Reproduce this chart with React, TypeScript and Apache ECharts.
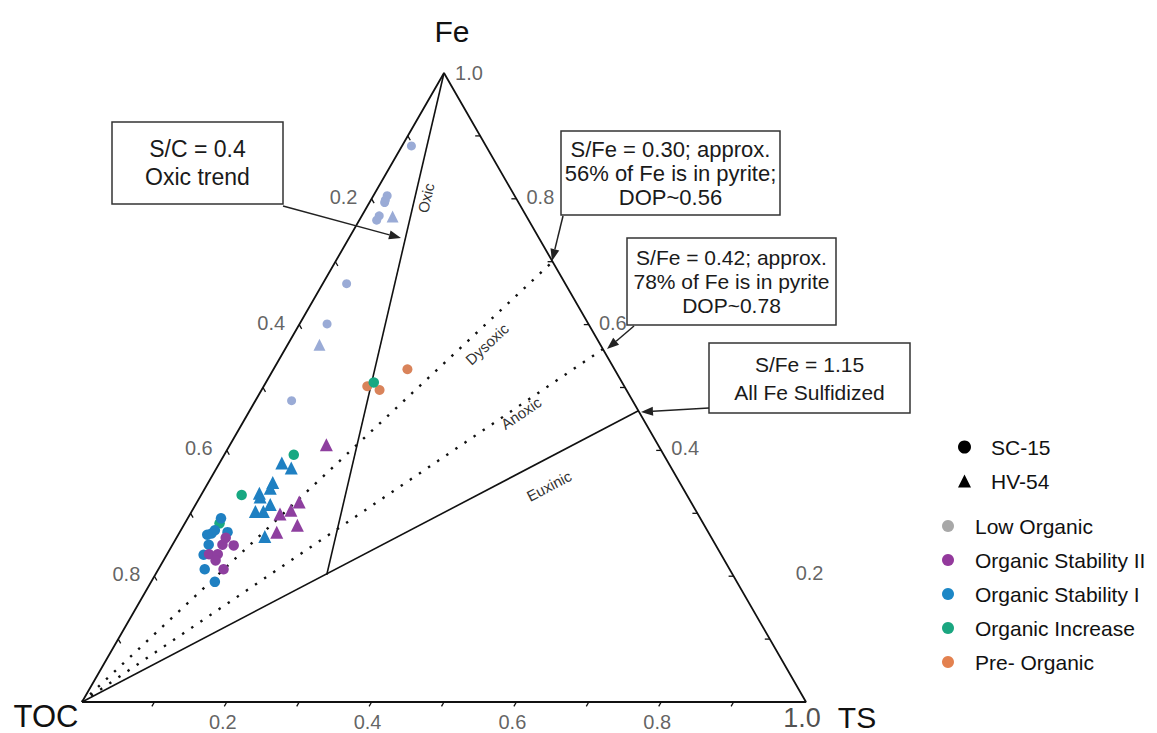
import React, { useEffect, useRef } from "react";
import * as echarts from "echarts";

// Ternary compositions stored as [TS, Fe] fractions (TOC = 1 - TS - Fe)
const lowOrganicSC = [[0.013, 0.884], [0.019, 0.805], [0.020, 0.798], [0.021, 0.794], [0.024, 0.773], [0.024, 0.766], [0.033, 0.665], [0.038, 0.601], [0.050, 0.479]];
const lowOrganicHV = [[0.043, 0.772], [0.044, 0.568]];
const preOrganicSC = [[0.185, 0.529], [0.143, 0.502], [0.163, 0.496]];
const orgIncreaseSC = [[0.149, 0.508], [0.096, 0.393], [0.056, 0.329], [0.048, 0.284]];
const orgStabIHV = [[0.086, 0.380], [0.103, 0.372], [0.089, 0.349], [0.090, 0.340], [0.079, 0.332], [0.083, 0.326], [0.103, 0.314], [0.088, 0.303], [0.099, 0.303], [0.121, 0.263]];
const orgStabIIHV = [[0.133, 0.409], [0.141, 0.318], [0.136, 0.305], [0.124, 0.299], [0.157, 0.281], [0.134, 0.270]];
const orgStabISC = [[0.046, 0.292], [0.047, 0.273], [0.045, 0.268], [0.040, 0.266], [0.066, 0.270], [0.050, 0.250], [0.051, 0.234], [0.064, 0.211], [0.088, 0.191]];
const orgStabIISC = [[0.068, 0.261], [0.069, 0.250], [0.085, 0.249], [0.058, 0.235], [0.070, 0.235], [0.072, 0.225], [0.090, 0.211]];

// Reference lines (ternary [TS, Fe])
const vertexTOC = [0, 0];
const vertexTS = [1, 0];
const vertexFe = [0, 1];
const oxicEnd = [0.237, 0.202];
const euxinicEnd = [0.537, 0.463];
const dysoxicEnd = [0.300, 0.700];
const anoxicEnd = [0.439, 0.561];

const tickValues = [0.1, 0.2, 0.3, 0.4, 0.5, 0.6, 0.7, 0.8, 0.9];
const bottomLabels = [0.2, 0.4, 0.6, 0.8, 1.0];
const leftLabels = [0.2, 0.4, 0.6, 0.8];
const rightLabels = [0.2, 0.4, 0.6, 0.8, 1.0];

const categories = ["Low Organic", "Organic Stability II", "Organic Stability I", "Organic Increase", "Pre- Organic"];
const legendColors = ["#a8a8a8", "#93399c", "#1c87c6", "#1aa680", "#e3814f"];
const plotColors = ["#9aabd6", "#8e3f9f", "#1f80c2", "#17a882", "#d9835a"];

const FONT = '"Liberation Sans", Arial, Helvetica, sans-serif';
const toXY = (p: number[]) => [p[0] + p[1] / 2, p[1]];

function arrow(x1: number, y1: number, x2: number, y2: number) {
  const dx = x2 - x1, dy = y2 - y1;
  const L = Math.hypot(dx, dy);
  const ux = dx / L, uy = dy / L;
  const hl = 12, hw = 4.5;
  const bx = x2 - ux * hl, by = y2 - uy * hl;
  return [
    { type: "line", shape: { x1, y1, x2: bx, y2: by }, style: { stroke: "#222", lineWidth: 1.5 }, z: 20 },
    { type: "polygon", shape: { points: [[x2, y2], [bx - uy * hw, by + ux * hw], [bx + uy * hw, by - ux * hw]] }, style: { fill: "#222" }, z: 20 },
  ];
}

function box(x: number, y: number, w: number, h: number, text: string, fontSize: number, lineHeight: number) {
  return [
    { type: "rect", shape: { x, y, width: w, height: h }, style: { fill: "#fff", stroke: "#333", lineWidth: 1.5 }, z: 20 },
    {
      type: "text", x: x + w / 2, y: y + h / 2, z: 21,
      style: { text, fontSize, fontFamily: FONT, fill: "#1a1a1a", align: "center", verticalAlign: "middle", lineHeight },
    },
  ];
}

function zoneLabel(text: string, x: number, y: number, deg: number) {
  return {
    type: "text", x, y, rotation: (deg * Math.PI) / 180, z: 10,
    style: { text, fontSize: 15, fontFamily: FONT, fill: "#333", align: "center", verticalAlign: "middle" },
  };
}

export default function App() {
  const ref = useRef<HTMLDivElement>(null);
  useEffect(() => {
    document.body.style.margin = "0";
    const chart = echarts.init(ref.current!, null, { renderer: "svg" });

    const seg = (pts: number[][], lineStyle: any) => ({
      type: "line", data: pts.map(toXY), symbol: "none", silent: true, z: 3, lineStyle, legendHoverLink: false,
    });
    const sc = (name: string, data: number[][], color: string, symbol: string, size: number) => ({
      type: "scatter", name, data: data.map(toXY), symbol, symbolSize: size, silent: true, z: 5,
      symbolKeepAspect: true,
      itemStyle: { color, opacity: 1 },
    });

    const tickData: number[][] = [];
    tickValues.forEach((v) => { tickData.push([0, v]); tickData.push([1, v]); tickData.push([2, v]); });

    const labelData: any[] = [];
    bottomLabels.forEach((v) => labelData.push({
      value: toXY([v, 0]), name: v.toFixed(1),
      label: { offset: v === 1 ? [-4, 16] : [-4, 20], fontSize: v === 1 ? 27 : 20, color: v === 1 ? "#222" : "#3b3b3b" },
    }));
    leftLabels.forEach((v) => labelData.push({
      value: toXY([0, 1 - v]), name: v.toFixed(1), label: { offset: [-28, -2] },
    }));
    rightLabels.forEach((v) => labelData.push({
      value: toXY([1 - v, v]), name: v.toFixed(1),
      label: { offset: v === 1 ? [25, 0] : v === 0.2 ? [76, -3] : [24, -2] },
    }));

    const legendText = { fontSize: 21, color: "#111", fontFamily: FONT, lineHeight: 24 };

    const option: any = {
      animation: false,
      grid: { left: 82, top: 73, width: 724, height: 629, containLabel: false },
      xAxis: { type: "value", min: 0, max: 1, show: false },
      yAxis: { type: "value", min: 0, max: 1, show: false },
      legend: [
        {
          data: [{ name: "SC-15", icon: "circle" }, { name: "HV-54", icon: "triangle" }],
          orient: "vertical", left: 953, top: 430, itemWidth: 13, itemHeight: 13, itemGap: 10,
          selectedMode: false, symbolKeepAspect: true,
          textStyle: { ...legendText, padding: [0, 0, 0, 15] },
        },
        {
          data: categories.map((c, i) => ({ name: c, icon: "circle", itemStyle: { color: legendColors[i] } })),
          orient: "vertical", left: 937, top: 509, itemWidth: 12, itemHeight: 12, itemGap: 10,
          selectedMode: false,
          textStyle: { ...legendText, padding: [0, 0, 0, 16] },
        },
      ],
      series: [
        seg([vertexTOC, vertexTS, vertexFe, vertexTOC], { color: "#111", width: 1.8 }),
        seg([vertexFe, oxicEnd], { color: "#111", width: 1.6 }),
        seg([vertexTOC, euxinicEnd], { color: "#111", width: 1.6 }),
        seg([vertexTOC, dysoxicEnd], { color: "#111", width: 2.4, type: [2.4, 8.6] }),
        seg([vertexTOC, anoxicEnd], { color: "#111", width: 2.4, type: [2.4, 8.6] }),
        {
          type: "custom", silent: true, z: 4, data: tickData,
          renderItem: (params: any, api: any) => {
            const edge = api.value(0), v = api.value(1);
            let p: number[], d: number[];
            if (edge === 0) { p = [v, 0]; d = [-0.5, 0.866]; }
            else if (edge === 1) { p = [0, 1 - v]; d = [0.5, 0.866]; }
            else { p = [1 - v, v]; d = [-1, 0]; }
            const c = api.coord(toXY(p));
            const len = 5;
            return {
              type: "line",
              shape: { x1: c[0], y1: c[1], x2: c[0] + d[0] * len, y2: c[1] + d[1] * len },
              style: { stroke: "#111", lineWidth: 1.3 },
            };
          },
        },
        {
          type: "scatter", symbolSize: 1, silent: true, z: 25, data: labelData,
          itemStyle: { color: "transparent" },
          label: { show: true, position: "inside", formatter: "{b}", color: "#3b3b3b", fontSize: 20, fontFamily: FONT },
        },
        sc("Low Organic", lowOrganicSC, plotColors[0], "circle", 9),
        sc("Low Organic", lowOrganicHV, plotColors[0], "triangle", 12),
        sc("Pre- Organic", preOrganicSC, plotColors[4], "circle", 10),
        sc("Organic Increase", orgIncreaseSC, plotColors[3], "circle", 10.5),
        sc("Organic Stability I", orgStabIHV, plotColors[2], "triangle", 13),
        sc("Organic Stability II", orgStabIIHV, plotColors[1], "triangle", 13),
        sc("Organic Stability I", orgStabISC, plotColors[2], "circle", 10.5),
        sc("Organic Stability II", orgStabIISC, plotColors[1], "circle", 10.5),
        sc("SC-15", [], "#000", "circle", 9),
        sc("HV-54", [], "#000", "triangle", 11),
      ],
      graphic: [
        { type: "text", x: 452, y: 31, style: { text: "Fe", fontSize: 30, fontFamily: FONT, fill: "#111", align: "center", verticalAlign: "middle" } },
        { type: "text", x: 46, y: 716, style: { text: "TOC", fontSize: 31, fontFamily: FONT, fill: "#111", align: "center", verticalAlign: "middle" } },
        { type: "text", x: 857, y: 717, style: { text: "TS", fontSize: 30, fontFamily: FONT, fill: "#111", align: "center", verticalAlign: "middle" } },
        zoneLabel("Oxic", 426, 198, 77),
        zoneLabel("Dysoxic", 487, 344, 43),
        zoneLabel("Anoxic", 521, 413, 34),
        zoneLabel("Euxinic", 549, 486, 27.6),
        ...box(112, 122, 171, 82, "S/C = 0.4\nOxic trend", 23, 28),
        ...box(561, 131, 219, 84, "S/Fe = 0.30; approx.\n56% of Fe is in pyrite;\nDOP~0.56", 22, 24),
        ...box(627, 238, 209, 87, "S/Fe = 0.42; approx.\n78% of Fe is in pyrite\nDOP~0.78", 21, 24),
        ...box(709, 343, 201, 70, "S/Fe = 1.15\nAll Fe Sulfidized", 21, 28),
        ...arrow(283, 206, 401, 238),
        ...arrow(563, 216, 552, 261),
        ...arrow(634, 326, 607, 349),
        ...arrow(709, 408, 641, 412),
      ],
    };
    chart.setOption(option);
    return () => chart.dispose();
  }, []);
  return <div ref={ref} style={{ width: 1157, height: 733 }} />;
}
